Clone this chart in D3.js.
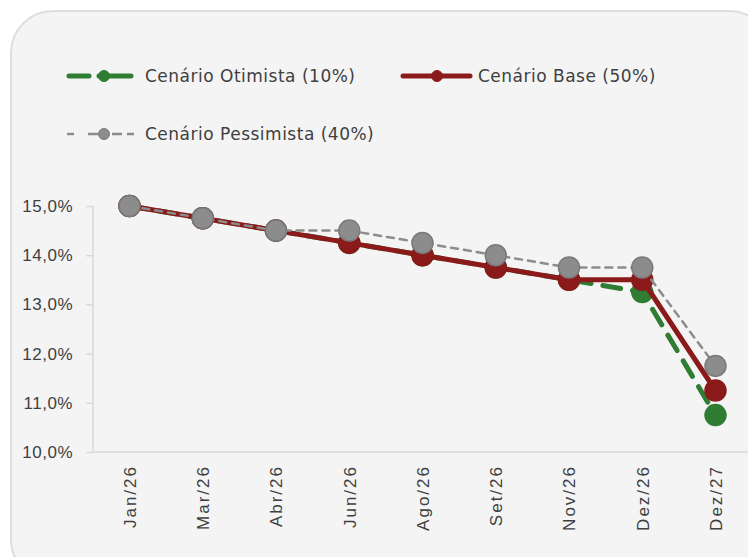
<!DOCTYPE html>
<html>
<head>
<meta charset="utf-8">
<script src="https://cdn.jsdelivr.net/npm/d3@7"></script>
<style>
  body { margin: 0; background: #fff; }
  svg { display: block; font-family: "DejaVu Sans", "Noto Sans", sans-serif; }
</style>
</head>
<body>
<svg id="chart" width="748" height="557"></svg>
<script>
// Cenários de juros
let months = ["Jan/26", "Mar/26", "Abr/26", "Jun/26", "Ago/26", "Set/26", "Nov/26", "Dez/26", "Dez/27"];
let otimista = [15.0, 14.75, 14.5, 14.25, 14.0, 13.75, 13.5, 13.25, 10.75];
let base = [15.0, 14.75, 14.5, 14.25, 14.0, 13.75, 13.5, 13.5, 11.25];
let pessimista = [15.0, 14.75, 14.5, 14.5, 14.25, 14.0, 13.75, 13.75, 11.75];
let yTicks = [10, 11, 12, 13, 14, 15];

let series = [
    { name: "Cenário Otimista (10%)", values: otimista, color: "#2e7d32", stroke: "#2e7d32", width: 5, dash: "18,12", r: 10.5 },
    { name: "Cenário Base (50%)", values: base, color: "#8b1a1a", stroke: "#8b1a1a", width: 5, dash: null, r: 10.5 },
    { name: "Cenário Pessimista (40%)", values: pessimista, color: "#8c8c8c", stroke: "#7a7a7a", width: 2.5, dash: "7,6", r: 10.5 }
];

let svg = d3.select("#chart");

// card background
svg.append("rect")
    .attr("x", 11).attr("y", 11)
    .attr("width", 760).attr("height", 570)
    .attr("rx", 42).attr("ry", 42)
    .attr("fill", "#f4f4f4")
    .attr("stroke", "#dedede")
    .attr("stroke-width", 2);

let xScale = d3.scalePoint()
    .domain(months)
    .range([129.5, 715.5]);

let yScale = d3.scaleLinear()
    .domain([10, 15])
    .range([452, 206]);

// y axis
let yAxis = svg.append("g")
    .attr("transform", "translate(93,0)")
    .call(d3.axisLeft(yScale).tickValues(yTicks).tickSize(7).tickPadding(13)
        .tickFormat(d => d.toFixed(1).replace(".", ",") + "%"));
yAxis.select(".domain").attr("stroke", "#d9d9d9").attr("stroke-width", 1.5).attr("d", "M0,206V452");
yAxis.selectAll(".tick line").attr("stroke", "#d9d9d9").attr("stroke-width", 1.5);
yAxis.selectAll(".tick text").attr("fill", "#404040")
    .style("font-size", "17px").style("letter-spacing", "0.5px");

// x axis
let xAxis = svg.append("g")
    .attr("transform", "translate(0,452)")
    .call(d3.axisBottom(xScale).tickSize(0).tickPadding(0));
xAxis.select(".domain").attr("stroke", "#d9d9d9").attr("stroke-width", 1.5).attr("d", "M93,0H760");
xAxis.selectAll(".tick text")
    .attr("fill", "#404040")
    .style("font-size", "17px")
    .style("letter-spacing", "2px")
    .attr("text-anchor", "end")
    .attr("dy", "0.35em")
    .attr("transform", "translate(0,13) rotate(-90)");

let line = d3.line()
    .x((d, i) => xScale(months[i]))
    .y(d => yScale(d));

series.forEach(s => {
    let g = svg.append("g");
    g.append("path")
        .datum(s.values)
        .attr("d", line)
        .attr("fill", "none")
        .attr("stroke", s.color)
        .attr("stroke-width", s.width)
        .attr("stroke-linecap", "round")
        .attr("stroke-dasharray", s.dash);
    g.selectAll("circle")
        .data(s.values)
        .join("circle")
        .attr("cx", (d, i) => xScale(months[i]))
        .attr("cy", d => yScale(d))
        .attr("r", s.r)
        .attr("fill", s.color)
        .attr("stroke", s.stroke)
        .attr("stroke-width", 1.5);
});

// legend
let legendPos = [[67, 76], [401, 76], [67, 134]];
series.forEach((s, i) => {
    let [lx, ly] = legendPos[i];
    let g = svg.append("g").attr("transform", "translate(" + lx + "," + ly + ")");
    if (i === 2) {
        [[0, 7], [21, 31], [45, 55], [60, 67]].forEach(seg => {
            g.append("line")
                .attr("x1", seg[0]).attr("x2", seg[1])
                .attr("stroke", s.color).attr("stroke-width", 2.5);
        });
    } else if (i === 0) {
        [[2, 22], [32, 64]].forEach(seg => {
            g.append("line")
                .attr("x1", seg[0]).attr("x2", seg[1])
                .attr("stroke", s.color).attr("stroke-width", 5)
                .attr("stroke-linecap", "round");
        });
    } else {
        g.append("line")
            .attr("x1", 2).attr("x2", 69)
            .attr("stroke", s.color).attr("stroke-width", 5)
            .attr("stroke-linecap", "round");
    }
    g.append("circle")
        .attr("cx", i === 1 ? 36 : 37).attr("cy", 0)
        .attr("r", 5.5)
        .attr("fill", s.color)
        .attr("stroke", s.stroke).attr("stroke-width", 1);
    g.append("text")
        .attr("x", i === 1 ? 77 : 78).attr("y", 0)
        .attr("dy", "0.35em")
        .attr("fill", "#404040")
        .style("font-size", "17px")
        .style("letter-spacing", "0.5px")
        .text(s.name);
});
</script>
</body>
</html>
